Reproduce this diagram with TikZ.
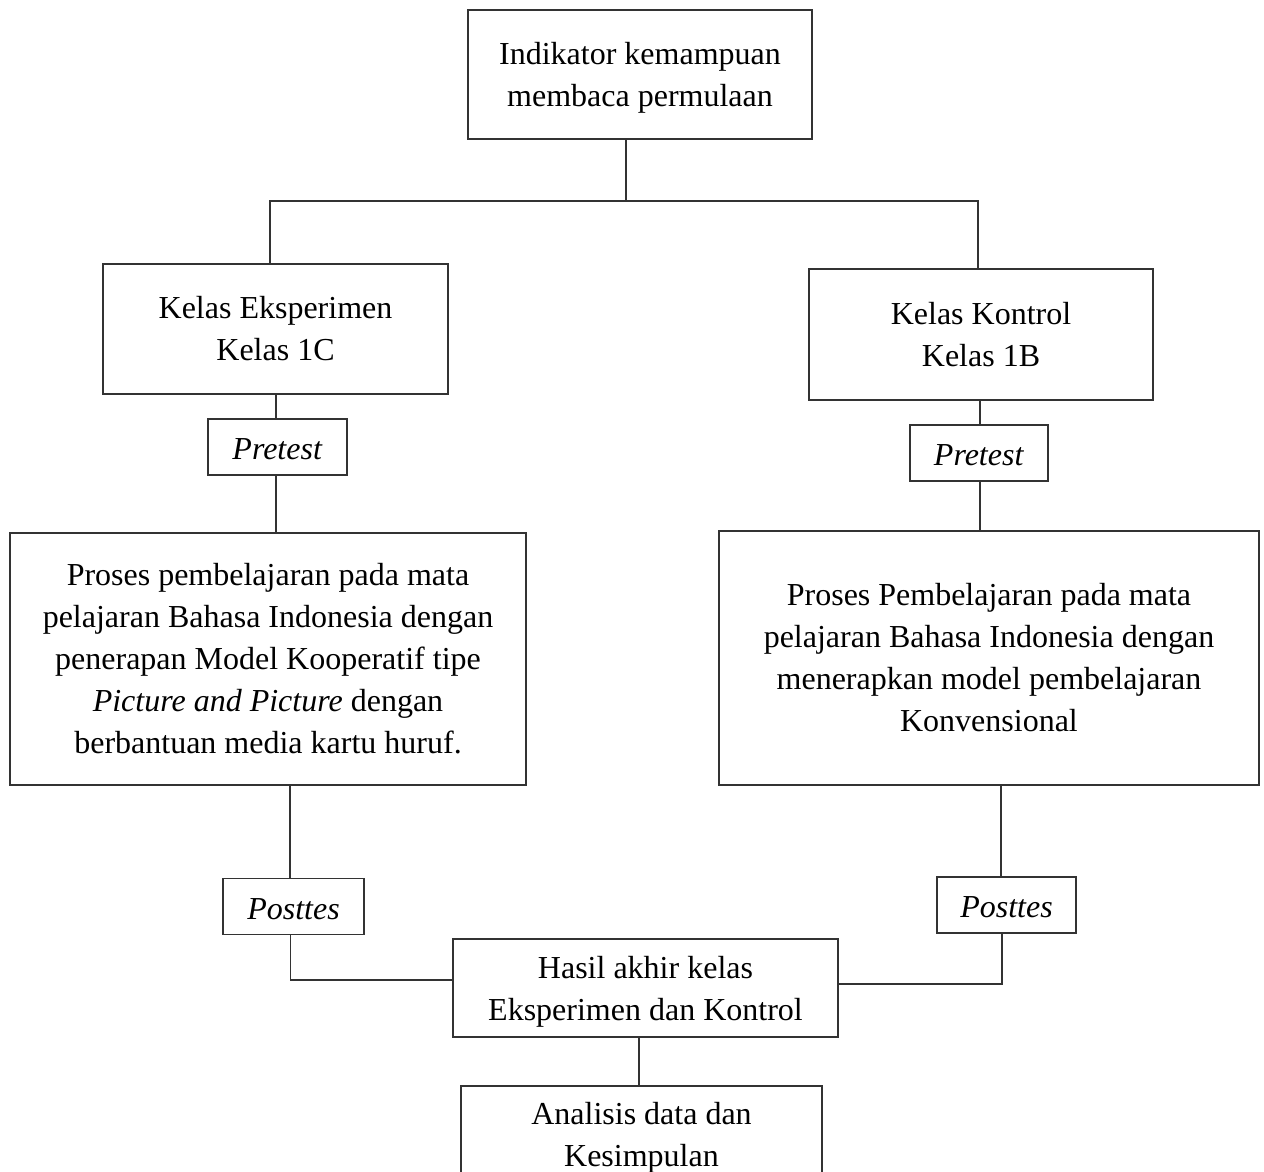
\documentclass[tikz,border=0pt]{standalone}
\usepackage{fontspec}
\setmainfont{Liberation Serif}
\newcommand{\upstrut}[1]{\rule{0pt}{#1pt}}
\begin{document}
\begin{tikzpicture}[x=1pt,y=-1pt,
  box/.style={draw=black!80, line width=1.1pt, fill=white, inner sep=0pt, align=center,
    font=\fontsize{32}{42}\selectfont},
  conn/.style={draw=black!80, line width=1.1pt}]
\clip (0,0) rectangle (1264,1172);
\fill[white] (0,0) rectangle (1264,1172);

\node[box, minimum width=344, minimum height=129] (top) at (640,74.5)
  {\upstrut{28}Indikator kemampuan\\membaca permulaan};
\node[box, minimum width=345, minimum height=130] (eks) at (275.5,329)
  {Kelas Eksperimen\\Kelas 1C};
\node[box, minimum width=344, minimum height=131] (kon) at (981,334.5)
  {Kelas Kontrol\\Kelas 1B};
\node[box, minimum width=139, minimum height=56] (pre1) at (277.5,447) {\upstrut{26}\textit{Pretest}};
\node[box, minimum width=138, minimum height=56] (pre2) at (979,453) {\upstrut{26}\textit{Pretest}};
\node[box, minimum width=516, minimum height=252] (proc1) at (268,659)
  {Proses pembelajaran pada mata\\pelajaran Bahasa Indonesia dengan\\penerapan Model Kooperatif tipe\\\textit{Picture and Picture} dengan\\berbantuan media kartu huruf.};
\node[box, minimum width=540, minimum height=254] (proc2) at (989,658)
  {Proses Pembelajaran pada mata\\pelajaran Bahasa Indonesia dengan\\menerapkan model pembelajaran\\Konvensional};
\node[box, minimum width=141, minimum height=56] (post1) at (293.5,906.5) {\upstrut{26}\textit{Posttes}};
\node[box, minimum width=139, minimum height=56] (post2) at (1006.5,905) {\upstrut{26}\textit{Posttes}};
\node[box, minimum width=385, minimum height=98] (hasil) at (645.5,988)
  {\upstrut{30}Hasil akhir kelas\\Eksperimen dan Kontrol};
\node[box, minimum width=361, minimum height=99] (anal) at (641.5,1135.5)
  {\upstrut{26}Analisis data dan\\Kesimpulan};

\coordinate (jc) at (626,201);
\coordinate (jl) at (270,201);
\coordinate (jr) at (978,201);
\draw[conn] (jc |- top.south) -- (jc) -- (jl) -- (jl |- eks.north);
\draw[conn] (jc) -- (jr) -- (jr |- kon.north);
\draw[conn] ([xshift=-1.5pt]pre1.north) -- ([xshift=-1.5pt]pre1.north |- eks.south);
\draw[conn] ([xshift=-1.5pt]pre1.south) -- ([xshift=-1.5pt]pre1.south |- proc1.north);
\draw[conn] ([xshift=1pt]pre2.north) -- ([xshift=1pt]pre2.north |- kon.south);
\draw[conn] ([xshift=1pt]pre2.south) -- ([xshift=1pt]pre2.south |- proc2.north);
\draw[conn] ([xshift=-3.5pt]post1.north) -- ([xshift=-3.5pt]post1.north |- proc1.south);
\draw[conn] ([xshift=-3pt]post1.south) |- ([yshift=8pt]hasil.west);
\draw[conn] ([xshift=-5.5pt]post2.north) -- ([xshift=-5.5pt]post2.north |- proc2.south);
\draw[conn] ([xshift=-4.5pt]post2.south) |- ([yshift=4pt]hasil.east);
\draw[conn] ([xshift=-2.5pt]anal.north) -- ([xshift=-2.5pt]anal.north |- hasil.south);
\end{tikzpicture}
\end{document}
